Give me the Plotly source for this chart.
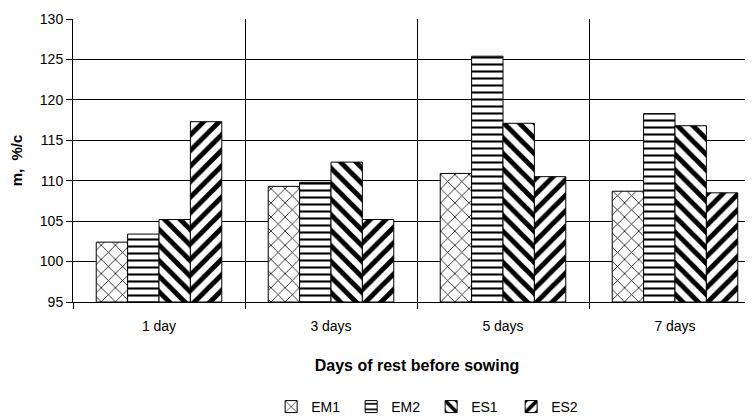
import plotly.graph_objects as go

categories = ["1 day", "3 days", "5 days", "7 days"]
series_names = ["EM1", "EM2", "ES1", "ES2"]
em1 = [102.4, 109.3, 110.9, 108.7]
em2 = [103.4, 109.8, 125.4, 118.3]
es1 = [105.2, 112.3, 117.1, 116.8]
es2 = [117.3, 105.2, 110.5, 108.5]
values = [em1, em2, es1, es2]
y_ticks = [95, 100, 105, 110, 115, 120, 125, 130]

shapes = ["x", "-", "\\", "/"]
sizes = [10, 7, 11, 11]
solid = [0.15, 0.3, 0.45, 0.45]

fig = go.Figure()
for name, vals, sh, sz, so in zip(series_names, values, shapes, sizes, solid):
    fig.add_trace(go.Bar(
        x=categories, y=[v - 95 for v in vals], base=95, name=name,
        marker=dict(color="white", line=dict(color="black", width=1),
                    pattern=dict(shape=sh, fgcolor="black", bgcolor="white",
                                 fgopacity=1, size=sz, solidity=so,
                                 fillmode="replace")),
    ))

font_family = "Liberation Sans, Arial, sans-serif"
fig.update_layout(
    width=753, height=420,
    margin=dict(l=65, r=0, t=11, b=126, autoexpand=False),
    paper_bgcolor="white", plot_bgcolor="white",
    barmode="group", bargap=0.27, bargroupgap=0,
    font=dict(family=font_family, size=14, color="black"),
    showlegend=True,
    legend=dict(orientation="h", x=0.288, xanchor="left", y=-0.371, yanchor="middle",
                font=dict(size=14), itemwidth=30, entrywidth=35,
                traceorder="normal"),
    xaxis=dict(range=[-0.5, 3.5], tickson="boundaries", showgrid=True,
               gridcolor="black", gridwidth=1, showline=True, linecolor="black",
               ticks="outside", ticklen=6, tickcolor="black", mirror=False,
               automargin=False, ticklabelstandoff=11,
               title=dict(text="<b>Days of rest before sowing</b>", font=dict(size=16),
                          standoff=27)),
    yaxis=dict(range=[95, 130], tickvals=y_ticks, showgrid=True, gridcolor="black",
               gridwidth=1, showline=True, linecolor="black", ticks="outside",
               ticklen=6, tickcolor="black", zeroline=False, automargin=False,
               title=dict(text="<b>m,  %/c</b>", font=dict(size=15), standoff=16)),
)
fig.write_html("out.html")
